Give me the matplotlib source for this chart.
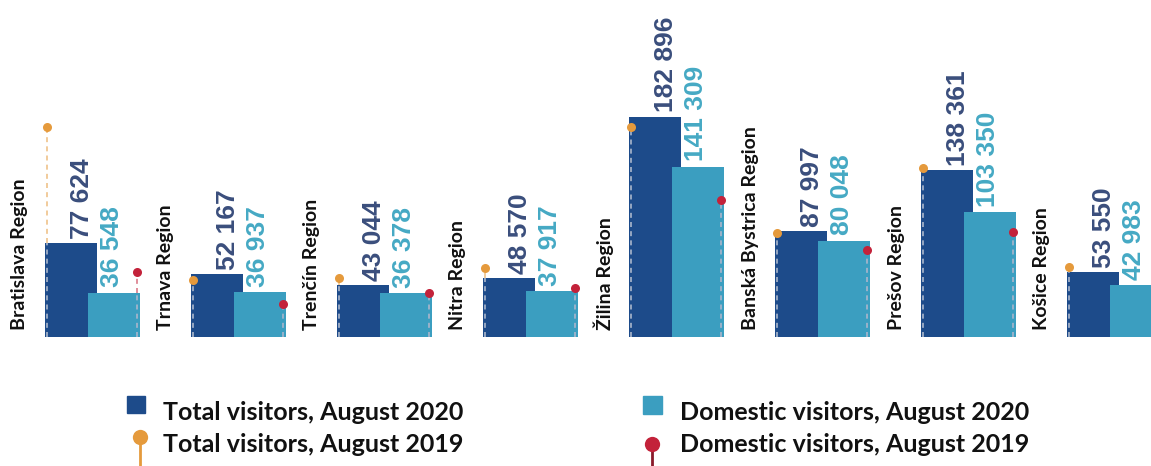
import numpy as np
import matplotlib
matplotlib.use('Agg')
import matplotlib.pyplot as plt
from matplotlib.patches import Rectangle
from matplotlib.lines import Line2D

regions = ['Bratislava Region', 'Trnava Region', 'Trenčín Region', 'Nitra Region',
           'Žilina Region', 'Banská Bystrica Region', 'Prešov Region', 'Košice Region']
total_2020 = [77624, 52167, 43044, 48570, 182896, 87997, 138361, 53550]
domestic_2020 = [36548, 36937, 36378, 37917, 141309, 80048, 103350, 42983]
# 2019 values are not printed, read off the lollipop heights
total_2019 = [174000, 47500, 49000, 57300, 174000, 86300, 140000, 58000]
domestic_2019 = [54000, 27500, 36500, 40700, 114000, 72000, 87000, 32400]

legend_labels = ['Total visitors, August 2020', 'Total visitors, August 2019',
                 'Domestic visitors, August 2020', 'Domestic visitors, August 2019']

DARK = '#1D4B8A'
TEAL = '#3B9EC0'
DARK_TXT = '#3A4E7C'
TEAL_TXT = '#45A9C4'
ORANGE = '#E59A3C'
RED = '#C3223A'
STEM = '#AAB6CC'

W, H = 1151, 466
fig = plt.figure(figsize=(W / 100, H / 100), dpi=100)

# main axes: baseline 129 px from the bottom, one x unit = one region group
base_px = 129
px_per_group = 146
ax = fig.add_axes([0, base_px / H, 1, (H - base_px) / H])
ax.set_xlim(-45 / px_per_group, (W - 45) / px_per_group)
ax.set_ylim(0, (H - base_px) * 830)
ax.axis('off')

x = np.arange(len(regions))
bw = 52 / px_per_group
light_off = 43 / px_per_group
px = 1 / px_per_group

ax.bar(x, total_2020, width=bw, align='edge', color=DARK, zorder=2)
ax.bar(x + light_off, domestic_2020, width=bw, align='edge', color=TEAL, zorder=3)

for i in range(len(regions)):
    # 2019 lollipops: dashed stem, dot on top
    for xs, v19, bar_v, col in [(x[i] + 2 * px, total_2019[i], total_2020[i], ORANGE),
                                (x[i] + light_off + bw - 3 * px, domestic_2019[i],
                                 domestic_2020[i], RED)]:
        inside = min(v19, bar_v)
        ax.plot([xs, xs], [0, inside], ls=(0, (3, 2.5)), lw=1.2, color=STEM, zorder=4)
        if v19 > bar_v:
            ax.plot([xs, xs], [bar_v, v19], ls=(0, (3, 2.5)), lw=1.2, color=col,
                    alpha=0.6, zorder=4)
        ax.plot(xs, v19, 'o', ms=6.5, color=col, mec='none', zorder=5)

    ax.annotate(f'{total_2020[i]:,}'.replace(',', ' '), (x[i] + 37 * px, total_2020[i]),
                xytext=(0, 3), textcoords='offset points', rotation=90,
                ha='center', va='bottom', color=DARK_TXT, fontsize=19,
                family='Liberation Sans', fontweight='bold', zorder=6)
    ax.annotate(f'{domestic_2020[i]:,}'.replace(',', ' '), (x[i] + 67 * px, domestic_2020[i]),
                xytext=(0, 4), textcoords='offset points', rotation=90,
                ha='center', va='bottom', color=TEAL_TXT, fontsize=19,
                family='Liberation Sans', fontweight='bold', zorder=6)
    ax.annotate(regions[i], (x[i] - 25 * px, 0), xytext=(0, 5),
                textcoords='offset points', rotation=90, ha='center', va='bottom',
                color='#111111', fontsize=14, family='Lato', fontweight='bold')

# legend drawn in pixel coordinates
lg = fig.add_axes([0, 0, 1, 1], zorder=10)
lg.set_xlim(0, W)
lg.set_ylim(H, 0)
lg.axis('off')
lg.add_patch(Rectangle((127, 396), 18, 17, color=DARK))
lg.add_patch(Rectangle((643, 396), 19, 18, color=TEAL))
lg.add_line(Line2D([140, 140], [437, 466], color=ORANGE, lw=2))
lg.plot(140, 437, 'o', ms=11, color=ORANGE, mec='none')
lg.add_line(Line2D([652, 652], [445, 466], color='#8A1A2A', lw=2))
lg.plot(652, 444, 'o', ms=11, color=RED, mec='none')
for (tx, ty), lab in zip([(163, 413), (163, 444), (680, 413), (680, 444)], legend_labels):
    lg.text(tx, ty, lab, ha='left', va='center', fontsize=18, family='Lato',
            fontweight='bold', color='#111111')

fig.savefig('out.png', dpi=100)
